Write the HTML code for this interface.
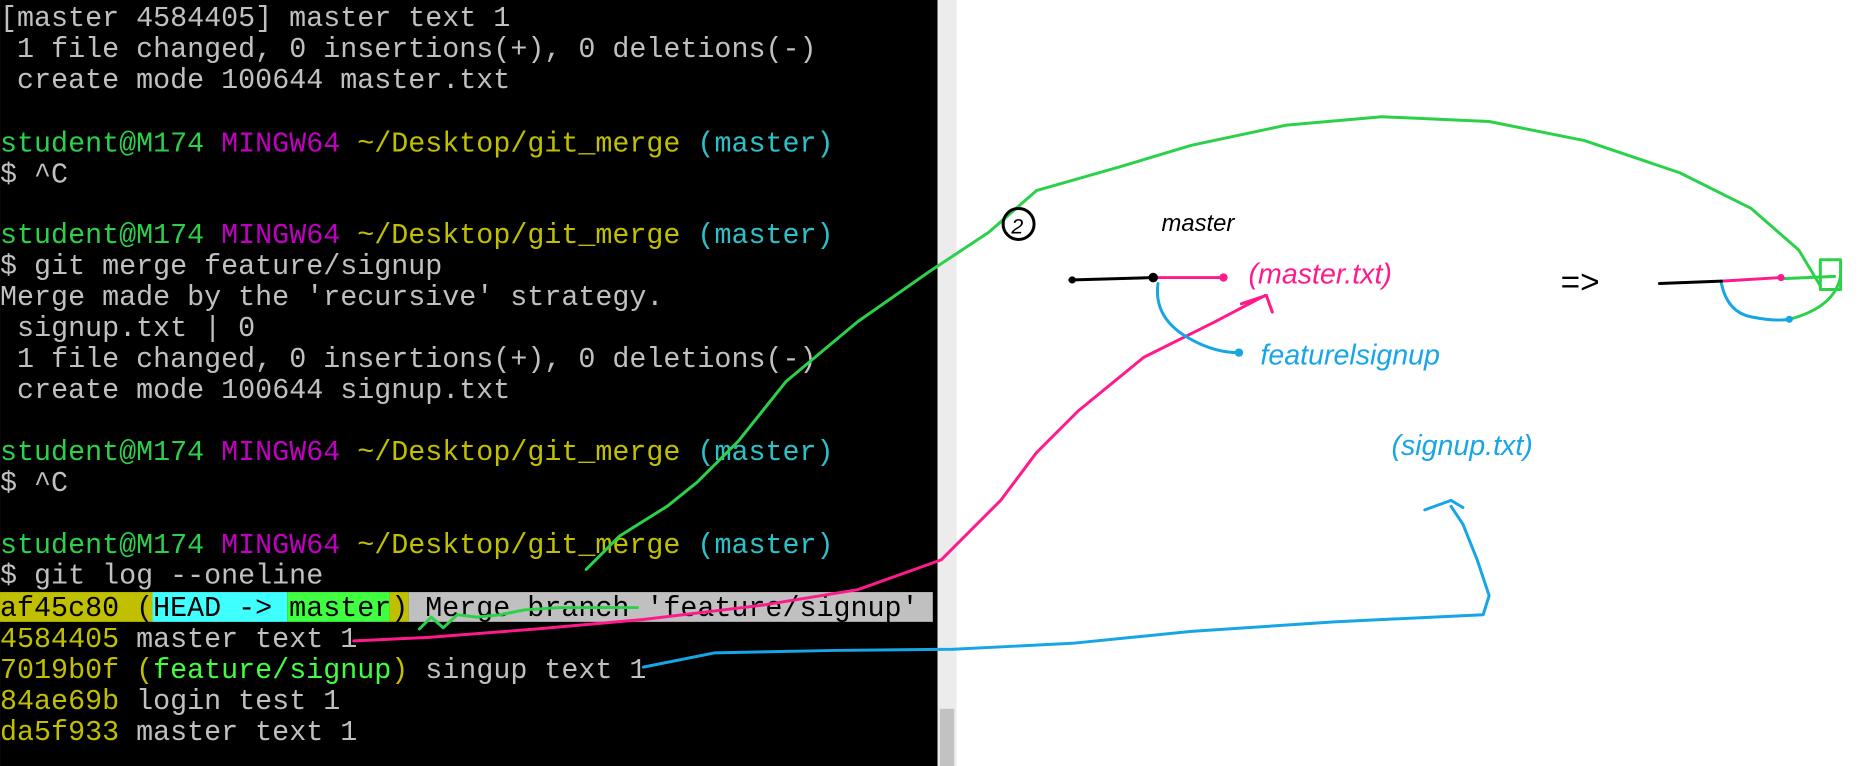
<!DOCTYPE html>
<html><head><meta charset="utf-8"><style>
html,body{margin:0;padding:0;background:#fff;width:1868px;height:766px;overflow:hidden}
svg{display:block}
.t{font-family:"Liberation Mono",monospace;font-size:23.8px;fill:#c0c0c0;white-space:pre}
.g{fill:#2bd14a}.m{fill:#c000c0}.y{fill:#c0c000}.c{fill:#2cc0c8}.d{fill:#000}.lg{fill:#40ff40}
.h{font-family:"Liberation Sans",sans-serif;font-style:italic}
</style></head><body>
<svg width="1868" height="766" viewBox="0 0 1568 643" xmlns="http://www.w3.org/2000/svg">
<rect x="0" y="0" width="787" height="643" fill="#000"/>
<rect x="787" y="0" width="16" height="643" fill="#ececec"/>
<rect x="789" y="595" width="12" height="48" fill="#c2c2c2"/>
<rect x="803" y="0" width="765" height="643" fill="#fff"/>
<rect x="0" y="497" width="128" height="25" fill="#c0c000"/>
<rect x="128" y="497" width="113" height="25" fill="#40ffff"/>
<rect x="241" y="497" width="86" height="25" fill="#40ff40"/>
<rect x="327" y="497" width="16" height="25" fill="#c0c000"/>
<rect x="343" y="497" width="440" height="25" fill="#c0c0c0"/>
<g class="t">
<text x="0" y="22">[master 4584405] master text 1</text>
<text x="14.3" y="48">1 file changed, 0 insertions(+), 0 deletions(-)</text>
<text x="14.3" y="74">create mode 100644 master.txt</text>
<text x="0" y="127"><tspan class="g">student@M174</tspan> <tspan class="m">MINGW64</tspan> <tspan class="y">~/Desktop/git_merge</tspan> <tspan class="c">(master)</tspan></text>
<text x="0" y="153">$ ^C</text>
<text x="0" y="204"><tspan class="g">student@M174</tspan> <tspan class="m">MINGW64</tspan> <tspan class="y">~/Desktop/git_merge</tspan> <tspan class="c">(master)</tspan></text>
<text x="0" y="230">$ git merge feature/signup</text>
<text x="0" y="256">Merge made by the 'recursive' strategy.</text>
<text x="14.3" y="282">signup.txt | 0</text>
<text x="14.3" y="308">1 file changed, 0 insertions(+), 0 deletions(-)</text>
<text x="14.3" y="334">create mode 100644 signup.txt</text>
<text x="0" y="386"><tspan class="g">student@M174</tspan> <tspan class="m">MINGW64</tspan> <tspan class="y">~/Desktop/git_merge</tspan> <tspan class="c">(master)</tspan></text>
<text x="0" y="412">$ ^C</text>
<text x="0" y="464"><tspan class="g">student@M174</tspan> <tspan class="m">MINGW64</tspan> <tspan class="y">~/Desktop/git_merge</tspan> <tspan class="c">(master)</tspan></text>
<text x="0" y="490">$ git log --oneline</text>
<text x="0" y="517" class="d">af45c80 (HEAD -&gt; master) Merge branch 'feature/signup'</text>
<text x="0" y="543"><tspan class="y">4584405</tspan> master text 1</text>
<text x="0" y="569"><tspan class="y">7019b0f (</tspan><tspan class="lg">feature/signup</tspan><tspan class="y">)</tspan> singup text 1</text>
<text x="0" y="595"><tspan class="y">84ae69b</tspan> login test 1</text>
<text x="0" y="621"><tspan class="y">da5f933</tspan> master text 1</text>
</g>
<g fill="none" stroke-width="2.5" stroke-linecap="round" stroke-linejoin="round">
<path stroke="#2bd14a" d="M492,478 L520,450 560,425 585,405 620,370 660,320 720,270 780,228 830,195 870,160 940,140 1000,122 1080,105 1160,98 1250,102 1330,118 1410,145 1470,175 1510,210 1528,240"/>
<path stroke="#2bd14a" d="M352,528 L362,518 372,527 384,516 400,518 420,516 440,512 470,510 500,510 535,510"/>
<rect x="1528" y="218" width="17" height="25" stroke="#2bd14a"/>
<path stroke="#2bd14a" d="M1495,234 L1540,232 M1502,268 Q1540,258 1545,232"/>
<path stroke="#ff1a8c" d="M297,538 L360,535 450,528 540,520 640,508 720,495 790,470 840,420 870,380 905,345 960,300 1020,270 1062,248 M1042,255 L1063,248 1068,262"/>
<path stroke="#ff1a8c" d="M970,233 L1027,233 M1445,236 L1495,233"/>
<path stroke="#16a6e6" d="M540,560 L600,548 700,546 800,545 900,540 1000,530 1120,522 1245,516 1250,500 1240,470 1228,440 1218,425 M1196,428 L1218,420 1228,426"/>
<path stroke="#16a6e6" d="M972,238 Q968,268 1000,285 Q1020,296 1040,296 M1445,238 Q1450,262 1470,266 Q1490,270 1502,268"/>
<path stroke="#000" d="M898,235 L968,233 M1393,238 L1445,236"/>
<circle cx="855" cy="188" r="13" stroke="#000"/>
</g>
<circle cx="968" cy="233" r="4" fill="#000"/><circle cx="900" cy="235" r="3" fill="#000"/>
<circle cx="1027" cy="233" r="3.5" fill="#ff1a8c"/><circle cx="1495" cy="233" r="3" fill="#ff1a8c"/>
<circle cx="1040" cy="296" r="3.5" fill="#16a6e6"/><circle cx="1502" cy="268" r="3" fill="#16a6e6"/>
<g class="h">
<text x="849" y="196" font-size="18" fill="#000">2</text>
<text x="975" y="194" font-size="20" fill="#000">master</text>
<text x="1048" y="238" font-size="24" fill="#ff1a8c">(master.txt)</text>
<text x="1058" y="306" font-size="24" fill="#16a6e6">featurelsignup</text>
<text x="1168" y="382" font-size="24" fill="#16a6e6">(signup.txt)</text>
<text x="1310" y="246" font-size="28" fill="#000" font-style="normal">=&gt;</text>
</g>
</svg>
</body></html>
